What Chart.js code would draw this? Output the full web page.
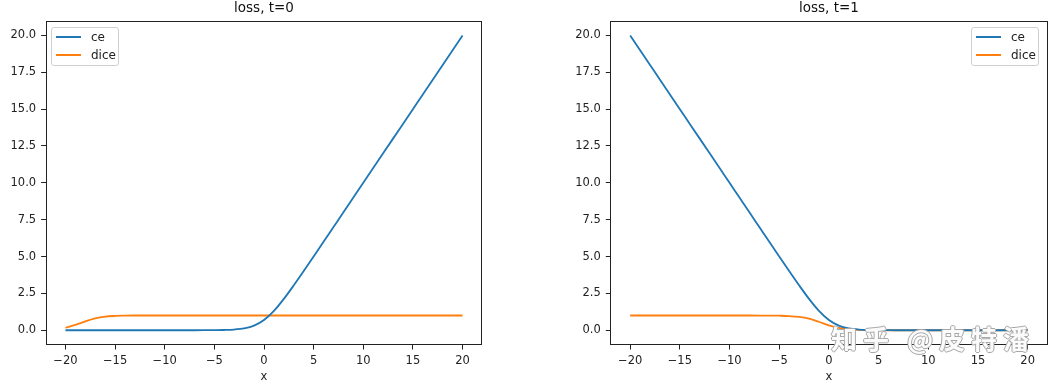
<!DOCTYPE html>
<html>
<head>
<meta charset="utf-8">
<script src="https://cdn.jsdelivr.net/npm/chart.js@4.4.0/dist/chart.umd.min.js"></script>
<style>
  html, body { margin: 0; padding: 0; background: #fff; }
  #wrap { position: relative; width: 1059px; height: 386px; overflow: hidden; font-family: "DejaVu Sans", sans-serif; }
  canvas { position: absolute; left: 0; top: 0; }
  .legend { position: absolute; width: 68px; height: 39px; border: 1px solid #d0d0d0; border-radius: 3px; background: rgba(255,255,255,0.85); box-sizing: border-box; }
  .legend .row { position: absolute; left: 0; height: 16px; width: 100%; }
  .legend .ln { position: absolute; left: 4px; width: 25px; height: 2px; top: 7px; }
  .legend .tx { position: absolute; left: 39px; top: 0; font-size: 12px; line-height: 16px; color: #222; }
  #wm { position: absolute; left: 831px; top: 323px; font-family: "Noto Sans CJK SC", sans-serif; font-weight: 700; font-size: 26px; letter-spacing: 6px; color: rgba(255,255,255,0.95);
        text-shadow: -1px 0 #a8a8a8, 1px 0 #a8a8a8, 0 -1px #a8a8a8, 0 1px #a8a8a8; white-space: nowrap; line-height: 30px; }
</style>
</head>
<body>
<div id="wrap">
  <canvas id="c0" width="1059" height="386"></canvas>
  <canvas id="c1" width="1059" height="386"></canvas>
  <div class="legend" style="left:51px; top:27px;">
    <div class="row" style="top:1px;"><div class="ln" style="background-color:#1f77b4"></div><div class="tx">ce</div></div>
    <div class="row" style="top:19px;"><div class="ln" style="background-color:#ff7f0e"></div><div class="tx">dice</div></div>
  </div>
  <div class="legend" style="left:971px; top:27px;">
    <div class="row" style="top:1px;"><div class="ln" style="background-color:#1f77b4"></div><div class="tx">ce</div></div>
    <div class="row" style="top:19px;"><div class="ln" style="background-color:#ff7f0e"></div><div class="tx">dice</div></div>
  </div>
  <div id="wm">知乎 @皮特潘</div>
</div>
<script>
// ---- data ----
const xValues = [-20,-19,-18,-17,-16,-15,-14,-13,-12,-11,-10,-9,-8,-7,-6,-5,-4,-3,-2,-1,0,1,2,3,4,5,6,7,8,9,10,11,12,13,14,15,16,17,18,19,20];
const ceT0 = [0,0,0,0,0,0,0,0,0,0,0,0.0001,0.0003,0.0009,0.0025,0.0067,0.018,0.049,0.127,0.313,0.693,1.313,2.127,3.049,4.018,5.007,6.002,7.001,8,9,10,11,12,13,14,15,16,17,18,19,20];
const diceT0 = [0.17,0.36,0.60,0.80,0.92,0.97,0.99,1,1,1,1,1,1,1,1,1,1,1,1,1,1,1,1,1,1,1,1,1,1,1,1,1,1,1,1,1,1,1,1,1,1];
const ceT1 = [20,19,18,17,16,15,14,13,12,11,10,9,8,7.001,6.002,5.007,4.018,3.049,2.127,1.313,0.693,0.313,0.127,0.049,0.018,0.0067,0.0025,0.0009,0.0003,0.0001,0,0,0,0,0,0,0,0,0,0,0];
const diceT1 = [1,1,1,1,1,1,1,1,1,1,1,1,0.9997,0.999,0.9975,0.987,0.965,0.909,0.787,0.576,0.333,0.155,0.063,0.024,0.009,0.0034,0.0012,0.0004,0.0001,0,0,0,0,0,0,0,0,0,0,0,0];
const xTicks = [-20,-15,-10,-5,0,5,10,15,20];
const yTicks = [0,2.5,5,7.5,10,12.5,15,17.5,20];
const titles = ['loss, t=0', 'loss, t=1'];

const FONT = '"DejaVu Sans", sans-serif';
const minus = s => String(s).replace('-', '\u2212');

const framePlugin = {
  id: 'frame',
  afterDraw(chart) {
    const a = chart.chartArea, ctx = chart.ctx;
    ctx.save();
    ctx.strokeStyle = '#222';
    ctx.lineWidth = 1;
    const l = Math.round(a.left) + 0.5, t = Math.round(a.top) + 0.5;
    const r = Math.round(a.right) - 0.5, b = Math.round(a.bottom) - 0.5;
    ctx.strokeRect(l, t, r - l, b - t);
    ctx.restore();
  }
};

function makeChart(id, ce, dice, title, padLeft, padRight, yWidth) {
  const pts = arr => xValues.map((x, i) => ({ x: x, y: arr[i] }));
  return new Chart(document.getElementById(id), {
    type: 'line',
    data: {
      datasets: [
        { label: 'ce', data: pts(ce), borderColor: '#1f77b4', borderWidth: 1.8, pointRadius: 0, cubicInterpolationMode: 'monotone', fill: false },
        { label: 'dice', data: pts(dice), borderColor: '#ff7f0e', borderWidth: 1.8, pointRadius: 0, cubicInterpolationMode: 'monotone', fill: false }
      ]
    },
    options: {
      responsive: false,
      animation: false,
      layout: { padding: { left: padLeft, right: padRight, top: 0, bottom: 0 } },
      plugins: {
        legend: { display: false },
        tooltip: { enabled: false },
        title: { display: true, text: title, fullSize: false, color: '#111', font: { family: FONT, size: 13.5, weight: 'normal' }, padding: { top: 0, bottom: 4.5 } }
      },
      scales: {
        x: {
          type: 'linear', min: -22, max: 22,
          afterBuildTicks: s => { s.ticks = xTicks.map(v => ({ value: v })); },
          afterFit: s => { s.height = 41; },
          border: { display: false },
          grid: { display: true, drawOnChartArea: false, drawTicks: true, tickLength: 4.5, color: '#222', tickWidth: 1 },
          ticks: { color: '#222', font: { family: FONT, size: 11.5 }, padding: 5, maxRotation: 0, callback: v => minus(v) },
          title: { display: true, text: 'x', color: '#222', font: { family: FONT, size: 11.5 }, padding: { top: 0, bottom: 2 } }
        },
        y: {
          type: 'linear', min: -1, max: 21,
          afterBuildTicks: s => { s.ticks = yTicks.map(v => ({ value: v })); },
          afterFit: s => { s.width = yWidth; },
          border: { display: false },
          grid: { display: true, drawOnChartArea: false, drawTicks: true, tickLength: 4.5, color: '#222', tickWidth: 1 },
          ticks: { color: '#222', font: { family: FONT, size: 11.5 }, padding: 5, callback: v => minus(Number(v).toFixed(1)) }
        }
      }
    },
    plugins: [framePlugin]
  });
}

makeChart('c0', ceT0, diceT0, titles[0], 0, 1059 - 482.4, 45.6);
makeChart('c1', ceT1, diceT1, titles[1], 560, 1059 - 1047.5, 50.3);
</script>
</body>
</html>
